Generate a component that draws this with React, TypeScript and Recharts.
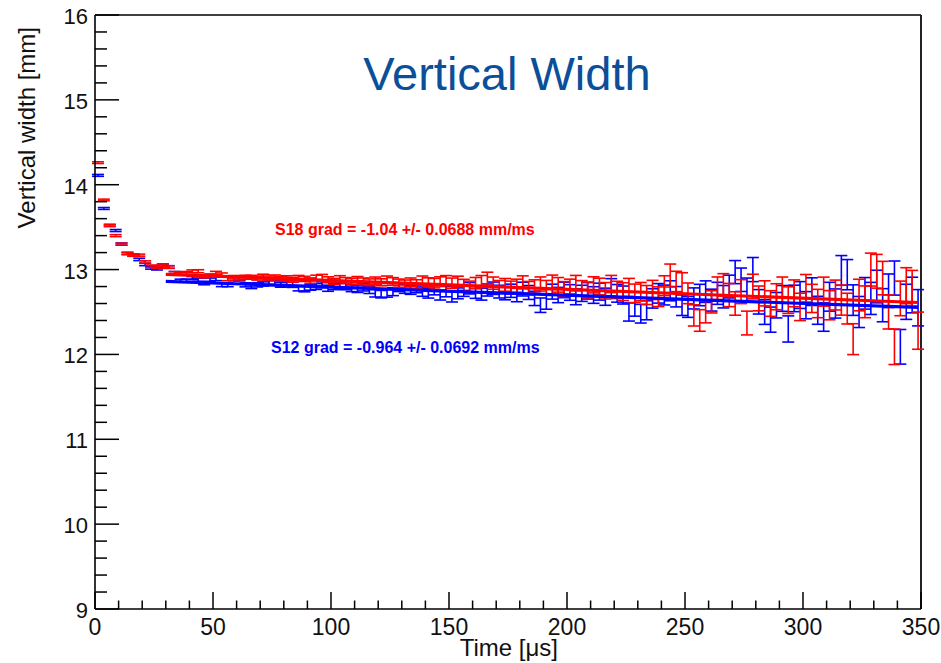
import React from "react";
import {
  ComposedChart,
  Scatter,
  Line,
  XAxis,
  YAxis,
  ErrorBar,
  ReferenceLine,
} from "recharts";

// ---- data ----
const times = [1.25, 3.75, 6.25, 8.75, 11.25, 13.75, 16.25, 18.75, 21.25, 23.75, 26.25, 28.75, 31.25, 33.75, 36.25, 38.75, 41.25, 43.75, 46.25, 48.75, 51.25, 53.75, 56.25, 58.75, 61.25, 63.75, 66.25, 68.75, 71.25, 73.75, 76.25, 78.75, 81.25, 83.75, 86.25, 88.75, 91.25, 93.75, 96.25, 98.75, 101.25, 103.75, 106.25, 108.75, 111.25, 113.75, 116.25, 118.75, 121.25, 123.75, 126.25, 128.75, 131.25, 133.75, 136.25, 138.75, 141.25, 143.75, 146.25, 148.75, 151.25, 153.75, 156.25, 158.75, 161.25, 163.75, 166.25, 168.75, 171.25, 173.75, 176.25, 178.75, 181.25, 183.75, 186.25, 188.75, 191.25, 193.75, 196.25, 198.75, 201.25, 203.75, 206.25, 208.75, 211.25, 213.75, 216.25, 218.75, 221.25, 223.75, 226.25, 228.75, 231.25, 233.75, 236.25, 238.75, 241.25, 243.75, 246.25, 248.75, 251.25, 253.75, 256.25, 258.75, 261.25, 263.75, 266.25, 268.75, 271.25, 273.75, 276.25, 278.75, 281.25, 283.75, 286.25, 288.75, 291.25, 293.75, 296.25, 298.75, 301.25, 303.75, 306.25, 308.75, 311.25, 313.75, 316.25, 318.75, 321.25, 323.75, 326.25, 328.75, 331.25, 333.75, 336.25, 338.75, 341.25, 343.75, 346.25, 348.75];

const s18Values = [
  14.26, 13.82, 13.52, 13.40, 13.30, 13.19, 13.17, 13.17, 13.09, 13.04,
  13.03, 13.05, 13.03, 12.96, 12.95, 12.96, 12.98, 12.98, 12.92, 12.93,
  12.96, 12.94, 12.89, 12.91, 12.90, 12.91, 12.91, 12.90, 12.92, 12.90,
  12.91, 12.89, 12.90, 12.88, 12.90, 12.89, 12.87, 12.90, 12.91, 12.88,
  12.86, 12.89, 12.87, 12.86, 12.88, 12.86, 12.85, 12.87, 12.85, 12.88,
  12.86, 12.84, 12.83, 12.85, 12.83, 12.87, 12.85, 12.84, 12.86, 12.87,
  12.84, 12.86, 12.82, 12.80, 12.84, 12.86, 12.90, 12.84, 12.80, 12.82,
  12.79, 12.81, 12.85, 12.78, 12.80, 12.83, 12.79, 12.85, 12.82, 12.77,
  12.80, 12.84, 12.78, 12.76, 12.82, 12.80, 12.75, 12.83, 12.76, 12.74,
  12.79, 12.72, 12.74, 12.70, 12.76, 12.68, 12.81, 12.93, 12.86, 12.84,
  12.72, 12.46, 12.40, 12.50, 12.62, 12.78, 12.82, 12.70, 12.60, 12.74,
  12.37, 12.80, 12.66, 12.72, 12.60, 12.68, 12.76, 12.64, 12.72, 12.56,
  12.78, 12.66, 12.60, 12.74, 12.58, 12.70, 12.64, 12.54, 12.18, 12.70,
  12.62, 13.00, 12.98, 12.90, 12.50, 12.09, 12.66, 12.81, 12.78, 12.28,
];

const s18Errors = [
  0.010, 0.010, 0.011, 0.012, 0.011, 0.012, 0.013, 0.012, 0.013, 0.014,
  0.014, 0.015, 0.014, 0.016, 0.015, 0.017, 0.016, 0.018, 0.017, 0.019,
  0.019, 0.020, 0.021, 0.020, 0.022, 0.023, 0.022, 0.024, 0.025, 0.024,
  0.026, 0.028, 0.027, 0.029, 0.031, 0.030, 0.032, 0.034, 0.033, 0.035,
  0.036, 0.038, 0.036, 0.039, 0.038, 0.041, 0.040, 0.042, 0.041, 0.044,
  0.045, 0.048, 0.047, 0.051, 0.050, 0.054, 0.053, 0.056, 0.055, 0.059,
  0.060, 0.062, 0.065, 0.064, 0.067, 0.070, 0.069, 0.072, 0.071, 0.075,
  0.074, 0.077, 0.076, 0.080, 0.079, 0.083, 0.082, 0.085, 0.086, 0.088,
  0.087, 0.091, 0.090, 0.094, 0.095, 0.098, 0.097, 0.101, 0.102, 0.105,
  0.106, 0.109, 0.108, 0.112, 0.113, 0.116, 0.117, 0.135, 0.120, 0.123,
  0.122, 0.125, 0.127, 0.128, 0.131, 0.133, 0.132, 0.137, 0.138, 0.141,
  0.140, 0.145, 0.146, 0.148, 0.151, 0.153, 0.152, 0.157, 0.158, 0.161,
  0.162, 0.166, 0.167, 0.171, 0.172, 0.176, 0.177, 0.181, 0.182, 0.186,
  0.187, 0.194, 0.199, 0.197, 0.200, 0.209, 0.204, 0.212, 0.210, 0.219,
];

const s12Values = [
  14.11, 13.72, 13.52, 13.46, 13.30, 13.19, 13.17, 13.12, 13.06, 13.02,
  13.01, 13.05, 13.03, 12.96, 12.87, 12.87, 12.90, 12.88, 12.84, 12.88,
  12.89, 12.82, 12.82, 12.89, 12.89, 12.82, 12.80, 12.82, 12.83, 12.85,
  12.84, 12.82, 12.84, 12.82, 12.78, 12.77, 12.79, 12.80, 12.82, 12.78,
  12.80, 12.81, 12.80, 12.78, 12.77, 12.79, 12.76, 12.72, 12.71, 12.72,
  12.74, 12.79, 12.77, 12.76, 12.78, 12.74, 12.72, 12.76, 12.70, 12.74,
  12.68, 12.72, 12.75, 12.78, 12.73, 12.71, 12.76, 12.78, 12.74, 12.72,
  12.75, 12.70, 12.77, 12.73, 12.66, 12.58, 12.62, 12.74, 12.70, 12.76,
  12.73, 12.68, 12.72, 12.75, 12.70, 12.74, 12.68, 12.79, 12.72, 12.70,
  12.50, 12.56, 12.48, 12.52, 12.66, 12.72, 12.70, 12.75, 12.68, 12.58,
  12.56, 12.66, 12.70, 12.74, 12.64, 12.72, 12.68, 12.80, 12.97, 12.88,
  12.76, 13.00, 12.62, 12.50, 12.41, 12.58, 12.66, 12.30, 12.66, 12.70,
  12.58, 12.74, 12.52, 12.44, 12.68, 12.60, 12.99, 12.94, 12.64, 12.50,
  12.72, 12.66, 12.80, 12.58, 12.75, 12.90, 12.09, 12.62, 12.70, 12.55,
];

const s12Errors = [
  0.011, 0.011, 0.012, 0.012, 0.013, 0.013, 0.013, 0.014, 0.014, 0.015,
  0.015, 0.016, 0.016, 0.017, 0.017, 0.018, 0.018, 0.019, 0.019, 0.020,
  0.020, 0.021, 0.022, 0.022, 0.023, 0.024, 0.024, 0.025, 0.025, 0.026,
  0.027, 0.028, 0.029, 0.030, 0.031, 0.032, 0.033, 0.034, 0.035, 0.036,
  0.037, 0.038, 0.038, 0.040, 0.040, 0.042, 0.042, 0.043, 0.044, 0.045,
  0.047, 0.049, 0.050, 0.052, 0.053, 0.055, 0.056, 0.058, 0.059, 0.061,
  0.062, 0.064, 0.066, 0.067, 0.069, 0.070, 0.072, 0.073, 0.075, 0.076,
  0.078, 0.079, 0.081, 0.082, 0.084, 0.085, 0.087, 0.088, 0.090, 0.091,
  0.092, 0.094, 0.095, 0.097, 0.098, 0.100, 0.101, 0.103, 0.104, 0.106,
  0.107, 0.109, 0.110, 0.112, 0.114, 0.115, 0.117, 0.118, 0.120, 0.121,
  0.123, 0.124, 0.126, 0.127, 0.129, 0.130, 0.132, 0.134, 0.136, 0.138,
  0.140, 0.142, 0.144, 0.146, 0.148, 0.150, 0.152, 0.154, 0.156, 0.158,
  0.160, 0.163, 0.165, 0.167, 0.170, 0.172, 0.175, 0.178, 0.180, 0.183,
  0.186, 0.189, 0.192, 0.195, 0.198, 0.201, 0.204, 0.207, 0.210, 0.214,
];

// straight-line fits (start / end of fit range)
const s18FitTimes = [30, 348.75];
const s18FitValues = [12.944, 12.612];
const s12FitTimes = [30, 348.75];
const s12FitValues = [12.861, 12.554];

const xTicks = [0, 10, 20, 30, 40, 50, 60, 70, 80, 90, 100, 110, 120, 130, 140, 150, 160, 170, 180, 190, 200, 210, 220, 230, 240, 250, 260, 270, 280, 290, 300, 310, 320, 330, 340, 350];
const yTicks = [9, 9.2, 9.4, 9.6, 9.8, 10, 10.2, 10.4, 10.6, 10.8, 11, 11.2, 11.4, 11.6, 11.8, 12, 12.2, 12.4, 12.6, 12.8, 13, 13.2, 13.4, 13.6, 13.8, 14, 14.2, 14.4, 14.6, 14.8, 15, 15.2, 15.4, 15.6, 15.8, 16];

const titleText = "Vertical Width";
const xTitle = "Time [\u03bcs]";
const yTitle = "Vertical width [mm]";
const s18Label = "S18 grad = -1.04 +/- 0.0688 mm/ms";
const s12Label = "S12 grad = -0.964 +/- 0.0692 mm/ms";

// ---- build series ----
const s18Data = times.map((t, i) => ({ t, v: s18Values[i], e: s18Errors[i] }));
const s12Data = times.map((t, i) => ({ t, v: s12Values[i], e: s12Errors[i] }));
const s18Fit = s18FitTimes.map((t, i) => ({ t, v: s18FitValues[i] }));
const s12Fit = s12FitTimes.map((t, i) => ({ t, v: s12FitValues[i] }));

const FONT = "'Liberation Sans', Arial, Helvetica, sans-serif";
const RED = "#ff0000";
const BLUE = "#0000ff";

const YTick = (props: any) => {
  const { x, y, payload } = props;
  const v = payload.value as number;
  const major = Math.abs(v - Math.round(v)) < 1e-6;
  return (
    <g>
      <line x1={x} x2={x + (major ? 24 : 12)} y1={y} y2={y} stroke="#000" strokeWidth={1.5} />
      {major && (
        <text x={x - 7} y={y + 9} textAnchor="end" fontSize={22} fontFamily={FONT} fill="#111">
          {Math.round(v)}
        </text>
      )}
    </g>
  );
};

const XTick = (props: any) => {
  const { x, y, payload } = props;
  const v = payload.value as number;
  const major = Math.abs(v % 50) < 1e-6;
  return (
    <g>
      <line x1={x} x2={x} y1={y} y2={y - (major ? 17 : 8.5)} stroke="#000" strokeWidth={1.5} />
      {major && (
        <text x={x} y={y + 26} textAnchor="middle" fontSize={23} fontFamily={FONT} fill="#111">
          {v}
        </text>
      )}
    </g>
  );
};

const NoShape = () => <g />;

export default function App() {
  return (
    <div style={{ position: "absolute", left: 0, top: 0, width: 941, height: 663, background: "#fff" }}>
      <ComposedChart
        width={941}
        height={663}
        margin={{ top: 15, right: 20, left: 0, bottom: 0 }}
      >
        <XAxis
          type="number"
          dataKey="t"
          domain={[0, 350]}
          ticks={xTicks}
          interval={0}
          allowDataOverflow
          height={54}
          tickSize={0}
          tickMargin={0}
          tickLine={false}
          tick={<XTick />}
          axisLine={{ stroke: "#000", strokeWidth: 1.6 }}
        />
        <YAxis
          type="number"
          dataKey="v"
          domain={[9, 16]}
          ticks={yTicks}
          interval={0}
          allowDataOverflow
          width={95}
          tickSize={0}
          tickMargin={0}
          tickLine={false}
          tick={<YTick />}
          axisLine={{ stroke: "#000", strokeWidth: 1.6 }}
        />
        <ReferenceLine y={16} stroke="#000" strokeWidth={1.6} />
        <ReferenceLine x={350} stroke="#222" strokeWidth={2} />
        <Scatter data={s12Data} dataKey="v" shape={<NoShape />} isAnimationActive={false}>
          <ErrorBar dataKey="e" direction="y" width={6} stroke={BLUE} strokeWidth={1.6} isAnimationActive={false} />
        </Scatter>
        <Scatter data={s18Data} dataKey="v" shape={<NoShape />} isAnimationActive={false}>
          <ErrorBar dataKey="e" direction="y" width={6} stroke={RED} strokeWidth={1.6} isAnimationActive={false} />
        </Scatter>
        <Line data={s12Fit} dataKey="v" stroke={BLUE} strokeWidth={3.2} dot={false} isAnimationActive={false} />
        <Line data={s18Fit} dataKey="v" stroke={RED} strokeWidth={3.2} dot={false} isAnimationActive={false} />
      </ComposedChart>
      <svg
        width={941}
        height={663}
        style={{ position: "absolute", left: 0, top: 0, pointerEvents: "none" }}
      >
        <text x={507} y={90} textAnchor="middle" fontSize={47} fontFamily={FONT} fill="#0b4f9a">
          {titleText}
        </text>
        <text x={275} y={235} fontSize={16} fontWeight="bold" fontFamily={FONT} fill={RED}>
          {s18Label}
        </text>
        <text x={271} y={353} fontSize={16} fontWeight="bold" fontFamily={FONT} fill={BLUE}>
          {s12Label}
        </text>
        <text x={558} y={656} textAnchor="end" fontSize={24} fontFamily={FONT} fill="#111">
          {xTitle}
        </text>
        <text
          x={35}
          y={27}
          textAnchor="end"
          fontSize={24}
          fontFamily={FONT}
          fill="#111"
          transform="rotate(-90, 35, 27)"
        >
          {yTitle}
        </text>
      </svg>
    </div>
  );
}
